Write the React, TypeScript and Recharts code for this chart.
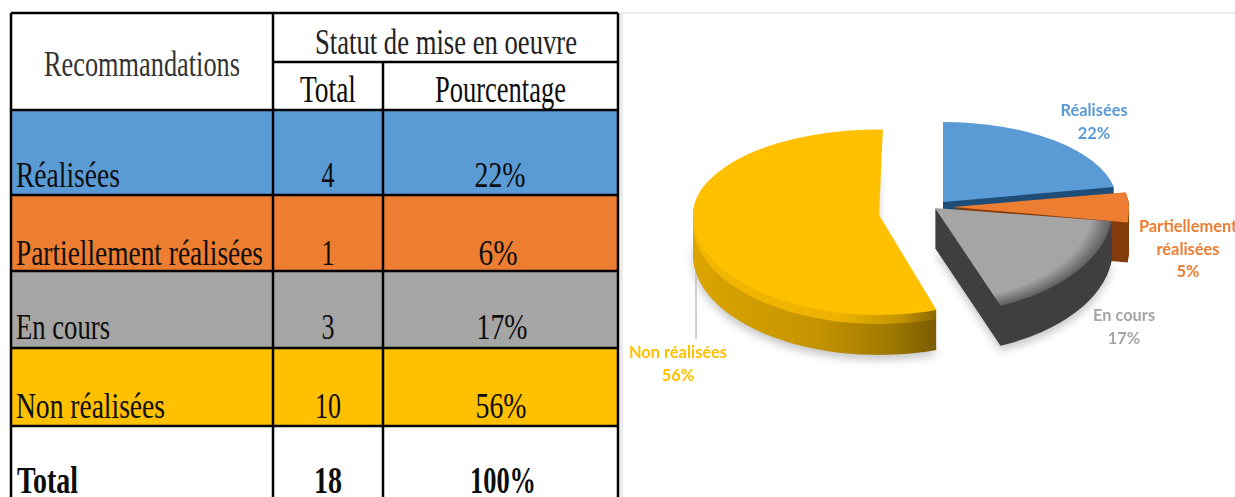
import { PieChart, Pie, Sector } from 'recharts';

const W = 1235;
const H = 497;

const names = ['Réalisées', 'Partiellement réalisées', 'En cours', 'Non réalisées'];
const totals = ['4', '1', '3', '10'];
const tablePct = ['22%', '6%', '17%', '56%'];
const chartPct = [22, 5, 17, 56];
const colors = ['#5b9bd5', '#ed7d31', '#a5a5a5', '#ffc000'];

// table geometry
const colX = [11, 273, 383, 618];
const rowY = [110, 195, 271, 348, 426];
const nameWidths = [104, 247, 94, 149];
const baselines = [187, 265, 339, 418];
const pctX = [500, 498, 502, 501];
const pctW = [51, 39, 51, 51];

// pie look: where each exploded slice sits, and how the tilt flattens it
const vertexX = [943, 953, 935, 879];
const vertexY = [202, 207, 208, 215];
const radii = [174, 176, 178, 186];
const squashUp = [0.46, 0.45, 0.5, 0.46];
const squashDown = [0.5, 0.7, 0.59, 0.537];
const startNudge = [0, 0, 0, -3.6];
const endNudge = [0, 0, 0, -1.2];
const wallFill = ['#1f4e79', '#843c0c', '#404040', 'url(#wallYellow)'];
const topFill = ['#5b9bd5', '#ed7d31', 'url(#topGray)', '#ffc000'];
const DEPTH = 40;
const PIE_CX = 930;
const PIE_CY = 215;

const pieData = names.map((name, i) => ({ name, value: chartPct[i] }));

const labelLines = [
  { lines: ['Réalisées', '22%'], x: 1094, y: 116 },
  { lines: ['Partiellement', 'réalisées', '5%'], x: 1188, y: 232 },
  { lines: ['En cours', '17%'], x: 1124, y: 321 },
  { lines: ['Non réalisées', '56%'], x: 678, y: 358 },
];

// split a slice at the horizontal so the front and back can flatten differently
function splitAngles(start: number, end: number) {
  const parts: [number, number][] = [];
  let a = start;
  for (const cut of [0, -180]) {
    if (a > cut && end < cut) {
      parts.push([a, cut]);
      a = cut;
    }
  }
  parts.push([a, end]);
  return parts;
}

function Cell3D(props: any) {
  const i = names.indexOf(props.name);
  const { cx, cy } = props;
  const start = props.startAngle + startNudge[i];
  const drawn = (dy: number, fill: string, end: number) =>
    splitAngles(start, end).map(([a, b]) => {
      const mid = ((a + b) / 2) * (Math.PI / 180);
      const k = Math.sin(mid) > 0 ? squashUp[i] : squashDown[i];
      return (
        <g
          key={a}
          transform={`translate(${vertexX[i]} ${vertexY[i] + dy}) scale(1 ${k}) translate(${-cx} ${-cy})`}
        >
          <Sector cx={cx} cy={cy} innerRadius={0} outerRadius={radii[i]} startAngle={a} endAngle={b} fill={fill} stroke="none" />
        </g>
      );
    });
  const layers: number[] = [];
  for (let d = DEPTH; d > 0; d--) layers.push(d);
  return (
    <g>
      {i >= 2 && <g style={{ filter: 'blur(4px)' }}>{drawn(DEPTH + 5, 'rgba(0,0,0,0.22)', props.endAngle)}</g>}
      {layers.map((d) => {
        const fill = i === 3 && d < 10 ? 'url(#bevelYellow)' : wallFill[i];
        return <g key={d}>{drawn(d, fill, props.endAngle)}</g>;
      })}
      {drawn(0, topFill[i], props.endAngle + endNudge[i])}
    </g>
  );
}

function PieLabel(props: any) {
  const i = names.indexOf(props.name);
  const item = labelLines[i];
  return (
    <g style={{ filter: 'blur(0.4px)' }}>
      {i === 3 && <line x1={696} y1={273} x2={696} y2={339} stroke="#a6a6a6" strokeWidth={1} />}
      <text textAnchor="middle" fontFamily="Lato, sans-serif" fontWeight={700} fontSize={16.4} fill={colors[i]}>
        {item.lines.map((t, k) => (
          <tspan key={k} x={item.x} y={item.y + k * 22.5}>
            {t}
          </tspan>
        ))}
      </text>
    </g>
  );
}

function Txt({ x, y, w, anchor = 'start', bold = false, fill = '#0d0d0d', size = 36, children }: any) {
  return (
    <text
      x={x}
      y={y}
      textAnchor={anchor}
      textLength={w}
      lengthAdjust="spacingAndGlyphs"
      fontFamily="'Liberation Serif', serif"
      fontWeight={bold ? 700 : 400}
      fontSize={size}
      fill={fill}
    >
      {children}
    </text>
  );
}

function Table() {
  const stroke = { stroke: '#000', strokeWidth: 2.5 };
  return (
    <svg width={W} height={H} style={{ position: 'absolute', left: 0, top: 0 }}>
      <rect x={0} y={0} width={W} height={H} fill="#fff" />
      <rect x={620} y={12} width={W - 620} height={2} fill="#ececec" />
      <rect x={620} y={12} width={3} height={H - 12} fill="#ececec" />
      {colors.map((c, i) => (
        <rect key={c} x={colX[0]} y={rowY[i]} width={colX[3] - colX[0]} height={rowY[i + 1] - rowY[i]} fill={c} />
      ))}
      <line x1={colX[0]} y1={13} x2={colX[3]} y2={13} {...stroke} />
      <line x1={colX[1]} y1={62} x2={colX[3]} y2={62} {...stroke} />
      {rowY.map((y) => (
        <line key={y} x1={colX[0]} y1={y} x2={colX[3]} y2={y} {...stroke} />
      ))}
      <line x1={colX[0]} y1={13} x2={colX[0]} y2={H} {...stroke} />
      <line x1={colX[1]} y1={13} x2={colX[1]} y2={H} {...stroke} />
      <line x1={colX[2]} y1={62} x2={colX[2]} y2={H} {...stroke} />
      <line x1={colX[3]} y1={13} x2={colX[3]} y2={H} {...stroke} />

      <Txt x={44} y={76} w={196} fill="#333">Recommandations</Txt>
      <Txt x={315} y={54} w={262} fill="#222">Statut de mise en oeuvre</Txt>
      <Txt x={300} y={102} w={56} size={37}>Total</Txt>
      <Txt x={435} y={102} w={131} size={37}>Pourcentage</Txt>

      {names.map((n, i) => (
        <g key={n}>
          <Txt x={16} y={baselines[i]} w={nameWidths[i]}>{n}</Txt>
          <Txt x={328} y={baselines[i]} anchor="middle" w={totals[i].length * 13}>{totals[i]}</Txt>
          <Txt x={pctX[i]} y={baselines[i]} anchor="middle" w={pctW[i]}>{tablePct[i]}</Txt>
        </g>
      ))}
      <Txt x={17} y={493} w={61} bold size={37}>Total</Txt>
      <Txt x={328} y={493} anchor="middle" w={28} bold size={37}>18</Txt>
      <Txt x={503} y={493} anchor="middle" w={66} bold size={37}>100%</Txt>
    </svg>
  );
}

export default function App() {
  return (
    <div style={{ position: 'absolute', left: 0, top: 0, width: W, height: H, overflow: 'hidden' }}>
      <Table />
      <div style={{ position: 'absolute', left: 0, top: 0 }}>
        <PieChart width={W} height={H} margin={{ top: 0, right: 0, bottom: 0, left: 0 }}>
          <defs>
            <linearGradient id="wallYellow" x1="0" x2="1" y1="0" y2="0">
              <stop offset="0" stopColor="#dba400" />
              <stop offset="0.5" stopColor="#c59400" />
              <stop offset="0.8" stopColor="#a17a00" />
              <stop offset="1" stopColor="#7a5c00" />
            </linearGradient>
            <linearGradient id="bevelYellow" x1="0" x2="1" y1="0" y2="0">
              <stop offset="0" stopColor="#f2b700" />
              <stop offset="0.6" stopColor="#eeb300" />
              <stop offset="0.85" stopColor="#c49400" />
              <stop offset="1" stopColor="#8a6a00" />
            </linearGradient>
            <radialGradient id="topGray" gradientUnits="userSpaceOnUse" cx={PIE_CX} cy={PIE_CY} r={radii[2]}>
              <stop offset="0.88" stopColor="#a5a5a5" />
              <stop offset="1" stopColor="#5f5f5f" />
            </radialGradient>
          </defs>
          <Pie
            data={pieData}
            dataKey="value"
            nameKey="name"
            cx={PIE_CX}
            cy={PIE_CY}
            outerRadius={180}
            startAngle={90}
            endAngle={-270}
            stroke="none"
            shape={Cell3D}
            label={PieLabel}
            labelLine={false}
            isAnimationActive={false}
          />
        </PieChart>
      </div>
    </div>
  );
}
